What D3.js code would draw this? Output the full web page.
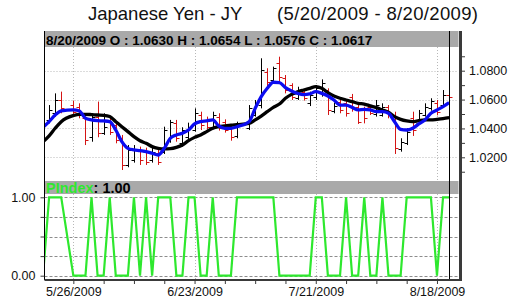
<!DOCTYPE html>
<html><head><meta charset="utf-8">
<script src="https://cdn.jsdelivr.net/npm/d3@7"></script>
<style>body{margin:0;background:#fff}svg{display:block}text{font-family:"Liberation Sans",Arial,sans-serif}</style>
</head><body><svg id="c" width="516" height="301"></svg>
<script>
// ---- data (weekdays; null = exchange holiday) ----
const dates = ["2009-05-19","2009-05-20","2009-05-21","2009-05-22","2009-05-25","2009-05-26","2009-05-27","2009-05-28","2009-05-29",
"2009-06-01","2009-06-02","2009-06-03","2009-06-04","2009-06-05","2009-06-08","2009-06-09","2009-06-10","2009-06-11","2009-06-12","2009-06-15","2009-06-16","2009-06-17","2009-06-18","2009-06-19","2009-06-22","2009-06-23","2009-06-24","2009-06-25","2009-06-26","2009-06-29","2009-06-30",
"2009-07-01","2009-07-02","2009-07-03","2009-07-06","2009-07-07","2009-07-08","2009-07-09","2009-07-10","2009-07-13","2009-07-14","2009-07-15","2009-07-16","2009-07-17","2009-07-20","2009-07-21","2009-07-22","2009-07-23","2009-07-24","2009-07-27","2009-07-28","2009-07-29","2009-07-30","2009-07-31",
"2009-08-03","2009-08-04","2009-08-05","2009-08-06","2009-08-07","2009-08-10","2009-08-11","2009-08-12","2009-08-13","2009-08-14","2009-08-17","2009-08-18","2009-08-19","2009-08-20"];
const open = [null,1.0459,1.0505,1.0597,null,1.0562,1.0551,1.0470,1.0343,
1.0482,1.0366,1.0447,1.0424,1.0332,1.0147,1.0181,1.0251,1.0239,1.0181,1.0228,1.0239,1.0320,1.0435,1.0297,1.0343,1.0389,1.0493,1.0459,1.0412,1.0482,1.0447,
1.0408,1.0348,null,1.0401,1.0493,1.0562,1.0794,1.0736,1.0851,1.0747,1.0701,1.0609,1.0655,1.0574,1.0620,1.0643,1.0666,1.0521,1.0586,1.0574,1.0620,1.0551,1.0528,
1.0546,1.0500,1.0493,1.0546,1.0493,1.0255,1.0301,1.0470,1.0435,1.0493,1.0539,1.0579,1.0562,1.0630];
const high = [null,1.0562,1.0643,1.0655,null,1.0593,1.0574,1.0482,1.0505,
1.0586,1.0505,1.0470,1.0447,1.0355,1.0285,1.0285,1.0274,1.0267,1.0269,1.0255,1.0412,1.0459,1.0459,1.0408,1.0440,1.0539,1.0516,1.0482,1.0516,1.0505,1.0463,
1.0431,1.0447,null,1.0562,1.0597,1.0886,1.0817,1.0828,1.0897,1.0770,1.0713,1.0689,1.0671,1.0655,1.0701,1.0740,1.0678,1.0579,1.0602,1.0597,1.0639,1.0579,1.0551,
1.0562,1.0597,1.0574,1.0562,1.0516,1.0332,1.0401,1.0516,1.0528,1.0574,1.0609,1.0597,1.0666,1.0654];
const low = [null,1.0435,1.0482,1.0505,null,1.0486,1.0470,1.0285,1.0308,
1.0339,1.0355,1.0355,1.0297,1.0112,1.0131,1.0163,1.0147,1.0147,1.0163,1.0147,1.0223,1.0301,1.0308,1.0274,1.0320,1.0378,1.0389,1.0394,1.0394,1.0385,1.0371,
1.0315,1.0332,null,1.0389,1.0482,1.0539,1.0689,1.0713,1.0724,1.0643,1.0597,1.0597,1.0593,1.0555,1.0597,1.0620,1.0493,1.0505,1.0505,1.0482,1.0516,1.0431,1.0435,
1.0493,1.0482,1.0482,1.0470,1.0223,1.0239,1.0285,1.0348,1.0424,1.0482,1.0523,1.0491,1.0551,1.0576];
const close = [null,1.0528,1.0597,1.0539,null,1.0516,1.0493,1.0320,1.0482,
1.0366,1.0412,1.0378,1.0320,1.0147,1.0251,1.0251,1.0181,1.0170,1.0239,1.0170,1.0389,1.0447,1.0332,1.0389,1.0412,1.0505,1.0424,1.0412,1.0493,1.0401,1.0389,
1.0339,1.0424,null,1.0539,1.0574,1.0805,1.0724,1.0817,1.0759,1.0666,1.0620,1.0666,1.0609,1.0632,1.0678,1.0713,1.0528,1.0555,1.0528,1.0505,1.0539,1.0447,1.0470,
1.0505,1.0562,1.0551,1.0493,1.0262,1.0308,1.0378,1.0389,1.0505,1.0551,1.0593,1.0516,1.0632,1.0617];
const maShort = [1.0408,1.0447,1.0493,1.0521,null,1.0528,1.0521,1.0470,1.0459,
1.0454,1.0452,1.0447,1.0389,1.0308,1.0262,1.0251,1.0246,1.0239,1.0228,1.0216,1.0262,1.0332,1.0355,1.0366,1.0389,1.0431,1.0447,1.0452,1.0459,1.0417,1.0401,
1.0401,1.0412,null,1.0447,1.0539,1.0620,1.0678,1.0720,1.0717,1.0683,1.0660,1.0643,1.0634,1.0639,1.0655,1.0643,1.0625,1.0597,1.0562,1.0562,1.0546,1.0528,1.0532,
1.0528,1.0516,1.0516,1.0505,1.0447,1.0394,1.0389,1.0401,1.0431,1.0459,1.0505,1.0528,1.0551,1.0579];
const maLong = [1.0308,1.0348,1.0401,1.0447,null,1.0489,1.0498,1.0498,1.0496,
1.0493,1.0491,1.0482,1.0447,1.0412,1.0378,1.0343,1.0315,1.0297,1.0274,1.0262,1.0258,1.0260,1.0269,1.0285,1.0315,1.0338,1.0355,1.0378,1.0401,1.0412,1.0417,
1.0422,1.0426,null,1.0435,1.0459,1.0486,1.0516,1.0546,1.0569,1.0609,1.0636,1.0653,1.0666,1.0678,1.0690,1.0678,1.0648,1.0625,1.0609,1.0597,1.0586,1.0574,1.0569,
1.0556,1.0544,1.0528,1.0512,1.0482,1.0463,1.0452,1.0447,1.0454,1.0459,1.0459,1.0463,1.0468,1.0475];
const pindex = [0,1,1,1,null,0,0,0,1,
0,0,1,0,0,0,1,0,1,0,1,1,1,0,0,1,1,0,0,1,0,0,
0,1,null,1,1,1,1,1,0,0,0,0,0,0,1,1,0,0,0,1,0,0,1,
0,0,1,0,0,0,1,1,1,1,1,0,1,1];
const priceTicks = [1.02,1.04,1.06,1.08];
const priceMinorTicks = [1.01,1.03,1.05,1.07,1.09];
const pindexTicks = [0,0.25,0.5,0.75,1];
const labelDates = ["2009-05-26","2009-06-23","2009-07-21","2009-08-18"];
const weekDates = ["2009-05-26","2009-06-02","2009-06-09","2009-06-16","2009-06-23","2009-06-30","2009-07-07","2009-07-14","2009-07-21","2009-07-28","2009-08-04","2009-08-11","2009-08-18"];
const titleName = "Japanese Yen - JY";

// ---- layout ----
const svg = d3.select("#c");
const parse = d3.timeParse("%Y-%m-%d"), fmt = d3.timeFormat("%-m/%-d/%Y");
const L = 44.5, R = 458.5, AX = 460.5;
const T1 = 31, H1 = 47, B1 = 179, T2 = 181, H2 = 194, B2 = 280;
const x = d3.scalePoint().domain(dates).range([43.04, 449.1]);
const yP = d3.scaleLinear().domain([1.02, 1.08]).range([157.3, 70.7]);
const yI = d3.scaleLinear().domain([0, 1]).range([275.7, 197.3]);
const rows = dates.map((d, i) => ({d, o: open[i], h: high[i], l: low[i], c: close[i], s: maShort[i], g: maLong[i], p: pindex[i]}));
const FONT = '"Liberation Sans",Arial,sans-serif';

const defs = svg.append("defs");
defs.append("clipPath").attr("id", "c1").append("rect").attr("x", L).attr("y", H1).attr("width", R - L).attr("height", B1 - H1);
defs.append("clipPath").attr("id", "c2").append("rect").attr("x", L).attr("y", H2).attr("width", R - L).attr("height", B2 - H2);

// title
const dr = `(${fmt(parse(dates[1]))} - ${fmt(parse(dates[dates.length - 1]))})`;
svg.append("text").attr("x", 88).attr("y", 20).attr("font-size", 18.5).attr("fill", "#111").text(titleName);
svg.append("text").attr("x", 277).attr("y", 20).attr("font-size", 18.5).attr("fill", "#111").attr("textLength", 201).text(dr);

// grid: top panel
const g1 = svg.append("g");
g1.selectAll(".hg").data(priceTicks).join("line")
  .attr("x1", L).attr("x2", R).attr("y1", d => Math.round(yP(d)) + 0.5).attr("y2", d => Math.round(yP(d)) + 0.5)
  .attr("stroke", "#b8b8b8").attr("stroke-dasharray", "1,2");
g1.selectAll(".vg").data(labelDates).join("line")
  .attr("x1", d => Math.round(x(d)) + 0.5).attr("x2", d => Math.round(x(d)) + 0.5).attr("y1", H1).attr("y2", B1)
  .attr("stroke", "#b8b8b8").attr("stroke-dasharray", "1,2");
// grid: lower panel
const g2 = svg.append("g");
g2.selectAll(".hg").data(pindexTicks).join("line")
  .attr("x1", L).attr("x2", R).attr("y1", d => Math.round(yI(d)) + 0.5).attr("y2", d => Math.round(yI(d)) + 0.5)
  .attr("stroke", "#8c8c8c").attr("stroke-dasharray", "3,2");
g2.selectAll(".vg").data(labelDates).join("line")
  .attr("x1", d => Math.round(x(d)) + 0.5).attr("x2", d => Math.round(x(d)) + 0.5).attr("y1", H2).attr("y2", B2)
  .attr("stroke", "#b8b8b8").attr("stroke-dasharray", "1,2");
g2.selectAll(".vg2").data(labelDates).join("line")
  .attr("x1", d => Math.round(x(d)) + 0.5).attr("x2", d => Math.round(x(d)) + 0.5).attr("y1", B1).attr("y2", T2)
  .attr("stroke", "#b8b8b8").attr("stroke-dasharray", "1,2");

// OHLC bars
const bars = svg.append("g").attr("clip-path", "url(#c1)");
const valid = rows.filter(r => r.o != null);
valid.forEach(r => {
  const cx = Math.round(x(r.d)) + 0.5;
  const col = r.c < r.o ? "#d41414" : "#000";
  const g = bars.append("g").attr("stroke", col).attr("stroke-width", 1);
  g.append("line").attr("x1", cx).attr("x2", cx).attr("y1", yP(r.h)).attr("y2", yP(r.l));
  g.append("line").attr("x1", cx - 3).attr("x2", cx).attr("y1", Math.round(yP(r.o)) + 0.5).attr("y2", Math.round(yP(r.o)) + 0.5);
  g.append("line").attr("x1", cx).attr("x2", cx + 3).attr("y1", Math.round(yP(r.c)) + 0.5).attr("y2", Math.round(yP(r.c)) + 0.5);
});

// moving averages
const lines = svg.append("g").attr("clip-path", "url(#c1)");
const lineG = d3.line().x(r => x(r.d)).y(r => yP(r.g)).curve(d3.curveMonotoneX);
const lineS = d3.line().x(r => x(r.d)).y(r => yP(r.s)).curve(d3.curveMonotoneX);
lines.append("path").attr("d", lineG(rows.filter(r => r.g != null))).attr("fill", "none").attr("stroke", "#000").attr("stroke-width", 3.3).attr("stroke-linejoin", "round");
lines.append("path").attr("d", lineS(rows.filter(r => r.s != null))).attr("fill", "none").attr("stroke", "#0c0cf0").attr("stroke-width", 3.3).attr("stroke-linejoin", "round");

// pindex line
const lineP = d3.line().x(r => x(r.d)).y(r => yI(r.p));
svg.append("g").attr("clip-path", "url(#c2)").append("path")
  .attr("d", lineP(rows.filter(r => r.p != null))).attr("fill", "none").attr("stroke", "#2ee82e").attr("stroke-width", 2.2);

// headers
svg.append("rect").attr("x", L).attr("y", T1).attr("width", R - L).attr("height", H1 - T1).attr("fill", "#a9a9a9");
svg.append("rect").attr("x", L).attr("y", T2).attr("width", R - L).attr("height", H2 - T2).attr("fill", "#a9a9a9");
const last = rows[rows.length - 1];
const f4 = d3.format(".4f");
svg.append("text").attr("x", 46).attr("y", 44.5).attr("font-size", 13.5).attr("font-weight", "bold").attr("fill", "#000")
  .text(`${fmt(parse(last.d))} O : ${f4(last.o)} H : ${f4(last.h)} L : ${f4(last.l)} C : ${f4(last.c)}`);
const pt = svg.append("text").attr("x", 46).attr("y", 192.5).attr("font-size", 14.5).attr("font-weight", "bold");
pt.append("tspan").attr("fill", "#2ee82e").text("PIndex");
pt.append("tspan").attr("fill", "#000").text(": " + d3.format(".2f")(last.p));

// cursor line and borders
svg.append("line").attr("x1", Math.round(x(last.d)) + 0.5).attr("x2", Math.round(x(last.d)) + 0.5).attr("y1", T1).attr("y2", B2).attr("stroke", "#000");
svg.append("line").attr("x1", L).attr("x2", L).attr("y1", T1).attr("y2", B2).attr("stroke", "#000");
svg.append("line").attr("x1", AX).attr("x2", AX).attr("y1", T1).attr("y2", B2 + 1).attr("stroke", "#3a3a3a").attr("stroke-width", 3);
svg.append("line").attr("x1", L).attr("x2", AX + 1.5).attr("y1", B2).attr("y2", B2).attr("stroke", "#3a3a3a").attr("stroke-width", 2);

// right price axis
const ra = svg.append("g").attr("transform", `translate(${AX + 1.5},0)`)
  .call(d3.axisRight(yP).tickValues(priceTicks.concat(priceMinorTicks)).tickSize(3).tickPadding(4)
    .tickFormat(d => priceTicks.includes(d) ? d3.format(".4f")(d) : ""));
ra.select(".domain").remove();
ra.selectAll("line").attr("stroke", "#3a3a3a");
ra.selectAll("text").attr("font-size", 12.5).attr("font-family", FONT).attr("fill", "#111");

// left pindex axis
const la = svg.append("g").attr("transform", `translate(${L},0)`)
  .call(d3.axisLeft(yI).tickValues(pindexTicks).tickSize(4).tickPadding(5)
    .tickFormat(d => (d === 0 || d === 1) ? d3.format(".2f")(d) : ""));
la.select(".domain").remove();
la.selectAll("line").attr("stroke", "#3a3a3a");
la.selectAll("text").attr("font-size", 12.5).attr("font-family", FONT).attr("fill", "#111");

// bottom date axis
const ba = svg.append("g").attr("transform", `translate(0,${B2})`)
  .call(d3.axisBottom(x).tickValues(weekDates).tickSize(4).tickPadding(3)
    .tickFormat(d => labelDates.includes(d) ? fmt(parse(d)) : ""));
ba.select(".domain").remove();
ba.selectAll("line").attr("stroke", "#3a3a3a");
ba.selectAll("text").attr("font-size", 12.5).attr("font-family", FONT).attr("fill", "#111");
</script></body></html>
